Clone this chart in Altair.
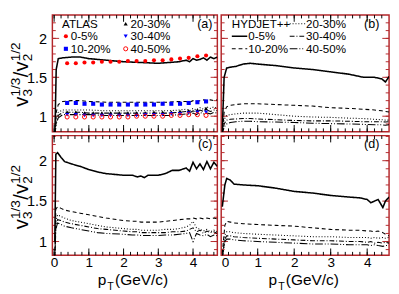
import altair as alt
import pandas as pd

FONT = "Liberation Sans"
FRAME = "#b3262a"
RED = "#ff0000"
BLUE = "#0000ff"

CENTS = ["0-5%", "10-20%", "20-30%", "30-40%", "40-50%"]
DASHES = [[1, 0], [4, 3], [1, 2], [5, 2, 1, 2], [8, 2, 1, 2, 1, 2]]
WIDTHS = [1.6, 1.1, 1.1, 1.1, 1.1]

# ---------------- data ----------------
# panel (a): model lines
pt_a = [0.02, 0.06, 0.12, 0.25, 0.5, 0.75, 1.0, 1.5, 2.0, 2.5, 3.0, 3.3, 3.6, 3.8,
        3.9, 4.0, 4.1, 4.2, 4.3, 4.4, 4.5, 4.6, 4.7]
a_0_5 = [0.70, 1.60, 1.74, 1.75, 1.76, 1.76, 1.74, 1.72, 1.70, 1.69, 1.68, 1.69, 1.70, 1.72,
         1.70, 1.74, 1.72, 1.73, 1.75, 1.72, 1.76, 1.74, 1.76]
a_10_20 = [0.78, 1.05, 1.15, 1.19, 1.20, 1.20, 1.19, 1.18, 1.18, 1.18, 1.18, 1.18, 1.19, 1.19,
           1.18, 1.20, 1.19, 1.20, 1.21, 1.20, 1.21, 1.20, 1.21]
a_20_30 = [0.75, 0.98, 1.05, 1.08, 1.08, 1.08, 1.08, 1.07, 1.07, 1.07, 1.07, 1.07, 1.08, 1.09,
           1.07, 1.10, 1.08, 1.11, 1.09, 1.12, 1.10, 1.12, 1.10]
a_30_40 = [0.75, 0.93, 1.01, 1.05, 1.05, 1.05, 1.04, 1.04, 1.04, 1.04, 1.04, 1.04, 1.05, 1.06,
           1.04, 1.07, 1.05, 1.08, 1.06, 1.08, 1.06, 1.08, 1.07]
a_40_50 = [0.75, 0.90, 0.98, 1.02, 1.02, 1.02, 1.02, 1.01, 1.01, 1.01, 1.01, 1.01, 1.02, 1.03,
           1.01, 1.04, 1.02, 1.05, 1.03, 1.04, 1.03, 1.05, 1.04]

# panel (a): ATLAS points
pt_atlas = [0.375, 0.625, 0.875, 1.125, 1.375, 1.625, 1.875, 2.125, 2.375, 2.625,
            2.875, 3.125, 3.375, 3.625, 3.875, 4.125, 4.375]
atlas_0_5 = [1.68, 1.68, 1.69, 1.69, 1.70, 1.70, 1.70, 1.71, 1.71, 1.71,
             1.72, 1.72, 1.73, 1.74, 1.75, 1.77, 1.78]
atlas_10_20 = [1.17, 1.17, 1.16, 1.16, 1.15, 1.15, 1.15, 1.15, 1.15, 1.15,
               1.15, 1.16, 1.16, 1.16, 1.17, 1.18, 1.19]
atlas_20_30 = [1.05, 1.05, 1.04, 1.04, 1.04, 1.04, 1.04, 1.04, 1.04, 1.04,
               1.05, 1.05, 1.05, 1.06, 1.07, 1.08, 1.10]
atlas_30_40 = [1.02, 1.02, 1.01, 1.01, 1.01, 1.01, 1.01, 1.01, 1.01, 1.02,
               1.02, 1.02, 1.03, 1.03, 1.04, 1.05, 1.05]
atlas_40_50 = [0.99, 0.99, 0.99, 0.99, 0.99, 0.99, 0.99, 0.99, 1.00, 1.00,
               1.00, 1.00, 1.01, 1.01, 1.02, 1.02, 1.01]

# panel (b): HYDJET++
pt_b = [0.02, 0.08, 0.15, 0.25, 0.4, 0.6, 0.8, 1.0, 1.5, 2.0, 2.5, 3.0, 3.5, 3.9,
        4.2, 4.4, 4.5, 4.6]
b_0_5 = [0.70, 1.50, 1.62, 1.63, 1.64, 1.67, 1.68, 1.67, 1.65, 1.62, 1.60, 1.57, 1.54, 1.50,
         1.50, 1.48, 1.44, 1.51]
b_10_20 = [0.75, 1.05, 1.12, 1.14, 1.15, 1.16, 1.16, 1.16, 1.15, 1.14, 1.13, 1.11, 1.10, 1.09,
           1.08, 1.07, 1.06, 1.055]
b_20_30 = [0.75, 0.96, 1.01, 1.02, 1.03, 1.04, 1.04, 1.04, 1.02, 1.00, 0.99, 0.985, 0.975, 0.97,
           0.96, 0.955, 0.95, 0.95]
b_30_40 = [0.75, 0.90, 0.95, 0.96, 0.965, 0.97, 0.97, 0.965, 0.955, 0.945, 0.94, 0.94, 0.935, 0.93,
           0.93, 0.93, 0.925, 0.93]
b_40_50 = [0.75, 0.86, 0.90, 0.92, 0.93, 0.935, 0.935, 0.93, 0.925, 0.92, 0.91, 0.905, 0.90, 0.895,
           0.89, 0.89, 0.885, 0.89]

# panel (c)
pt_c = [0.02, 0.05, 0.1, 0.2, 0.3, 0.5, 0.75, 1.0, 1.25, 1.5, 2.0, 2.25, 2.4, 2.5, 2.6,
        2.7, 3.0, 3.2, 3.4, 3.6, 3.8, 3.9, 4.0, 4.1, 4.2, 4.3, 4.4, 4.5, 4.6, 4.7]
c_0_5 = [1.00, 2.08, 2.10, 2.04, 1.99, 1.96, 1.93, 1.89, 1.86, 1.84, 1.82, 1.82, 1.80, 1.81, 1.79,
         1.82, 1.82, 1.84, 1.88, 1.88, 1.91, 1.87, 1.98, 1.90, 1.96, 1.89, 1.99, 1.90, 1.98, 1.93]
c_10_20 = [0.80, 1.40, 1.43, 1.41, 1.39, 1.37, 1.35, 1.33, 1.31, 1.29, 1.26, 1.25, 1.25, 1.24, 1.24,
           1.24, 1.24, 1.25, 1.26, 1.27, 1.28, 1.28, 1.29, 1.28, 1.29, 1.28, 1.29, 1.28, 1.29, 1.28]
c_20_30 = [0.78, 1.25, 1.33, 1.31, 1.29, 1.26, 1.24, 1.22, 1.20, 1.18, 1.16, 1.15, 1.15, 1.14, 1.14,
           1.14, 1.14, 1.15, 1.15, 1.16, 1.18, 1.20, 1.25, 1.17, 1.15, 1.13, 1.15, 1.12, 1.14, 1.12]
c_30_40 = [0.78, 1.20, 1.27, 1.26, 1.24, 1.22, 1.20, 1.18, 1.16, 1.15, 1.13, 1.12, 1.12, 1.11, 1.11,
           1.11, 1.11, 1.11, 1.12, 1.12, 1.13, 1.15, 1.17, 1.12, 1.14, 1.10, 1.13, 1.11, 1.12, 1.10]
c_40_50 = [0.78, 1.15, 1.23, 1.21, 1.19, 1.17, 1.15, 1.13, 1.11, 1.10, 1.09, 1.08, 1.08, 1.075, 1.075,
           1.075, 1.075, 1.08, 1.08, 1.09, 1.10, 1.11, 1.00, 1.10, 1.08, 1.07, 1.09, 1.06, 1.08, 1.07]

# panel (d)
pt_d = [0.03, 0.1, 0.15, 0.25, 0.35, 0.6, 1.0, 1.5, 2.0, 2.5, 3.0, 3.5, 3.8, 4.0, 4.1,
        4.2, 4.3, 4.43, 4.5, 4.6]
d_0_5 = [1.43, 1.70, 1.78, 1.76, 1.71, 1.70, 1.69, 1.66, 1.62, 1.60, 1.57, 1.55, 1.54, 1.52, 1.48,
         1.50, 1.52, 1.42, 1.50, 1.55]
d_10_20 = [0.85, 1.20, 1.25, 1.24, 1.23, 1.22, 1.21, 1.20, 1.19, 1.17, 1.15, 1.14, 1.14, 1.13, 1.13,
           1.12, 1.13, 1.11, 1.09, 1.07]
d_20_30 = [0.80, 1.08, 1.12, 1.12, 1.11, 1.10, 1.09, 1.08, 1.07, 1.06, 1.06, 1.05, 1.05, 1.05, 1.04,
           1.05, 1.04, 1.05, 1.04, 1.05]
d_30_40 = [0.80, 1.03, 1.07, 1.07, 1.06, 1.05, 1.04, 1.03, 1.02, 1.01, 1.01, 1.00, 1.00, 0.99, 1.00,
           0.98, 0.99, 0.98, 0.99, 0.98]
d_40_50 = [0.80, 1.00, 1.03, 1.03, 1.02, 1.01, 1.00, 0.99, 0.98, 0.97, 0.97, 0.96, 0.96, 0.96, 0.95,
           0.96, 0.95, 0.94, 0.95, 0.95]

X_LABELS = [0, 1, 2, 3, 4]
Y_LABELS = [1, 1.5, 2]
X_MAJOR = [0, 1, 2, 3, 4]
X_MINOR = [round(0.2 * i, 2) for i in range(25)]
Y_MAJOR = [1.0, 1.5, 2.0]
Y_MINOR = [round(0.8 + 0.1 * i, 2) for i in range(16)]

# ---------------- helpers ----------------
ONE = pd.DataFrame({"k": [0]})


def txt(s, x, y, size=12, align="left", baseline="middle", angle=0):
    kw = dict(text=s, font=FONT, fontSize=size, align=align, baseline=baseline, color="black")
    if angle:
        kw["angle"] = angle
    return alt.Chart(ONE).mark_text(**kw).encode(x=alt.value(x), y=alt.value(y))


def make_panel(pts, series, W, H, xdom, ydom, xlabels, ylabels, extras=None, points=None):
    if xlabels:
        xaxis = alt.Axis(values=X_LABELS, format="d", ticks=False, tickSize=0, domain=False,
                         grid=False, labelFont=FONT, labelFontSize=14, labelColor="black",
                         labelPadding=1, labelFlush=1, title=None)
    else:
        xaxis = None
    if ylabels:
        yaxis = alt.Axis(values=Y_LABELS, format="~g", ticks=False, tickSize=0, domain=False,
                         grid=False, labelFont=FONT, labelFontSize=15, labelColor="black",
                         labelPadding=6, title=None)
    else:
        yaxis = None

    def X(f):
        return alt.X(f, type="quantitative", scale=alt.Scale(domain=xdom, nice=False, zero=False), axis=xaxis)

    def Y(f):
        return alt.Y(f, type="quantitative", scale=alt.Scale(domain=ydom, nice=False, zero=False), axis=yaxis)

    layers = []
    # inward ticks
    for vals, L in ((Y_MAJOR, 7), (Y_MINOR, 3.5)):
        d = pd.DataFrame({"v": [v for v in vals if ydom[0] < v < ydom[1]]})
        layers.append(alt.Chart(d).mark_rule(color=FRAME, strokeWidth=1).encode(
            y=Y("v"), x=alt.value(0), x2=alt.value(L)))
        layers.append(alt.Chart(d).mark_rule(color=FRAME, strokeWidth=1).encode(
            y=Y("v"), x=alt.value(W - L), x2=alt.value(W)))
    for vals, L in ((X_MAJOR, 7), (X_MINOR, 3.5)):
        d = pd.DataFrame({"pt": [v for v in vals if xdom[0] < v < xdom[1]]})
        layers.append(alt.Chart(d).mark_rule(color="black", strokeWidth=1).encode(
            x=X("pt"), y=alt.value(H - L), y2=alt.value(H)))
        layers.append(alt.Chart(d).mark_rule(color="black", strokeWidth=1).encode(
            x=X("pt"), y=alt.value(0), y2=alt.value(L)))
    # model curves
    for c, vals, dash, w in zip(CENTS, series, DASHES, WIDTHS):
        d = pd.DataFrame({"pt": pts, "v": vals})
        layers.append(alt.Chart(d).mark_line(clip=True, color="black", strokeWidth=w,
                                             strokeDash=dash).encode(x=X("pt"), y=Y("v"), order="pt:Q"))
    if points:
        for ppt, vals, shape, col, filled in points:
            d = pd.DataFrame({"pt": ppt, "v": vals})
            layers.append(alt.Chart(d).mark_point(shape=shape, color=col, filled=filled, size=18,
                                                  strokeWidth=1, opacity=1).encode(x=X("pt"), y=Y("v")))
    if extras:
        layers.extend(extras)
    return alt.layer(*layers).properties(width=W, height=H)


def ytitle(cy):
    F, f = 21, 14
    bx = -25
    y0 = cy + 33
    parts = []
    parts.append(txt("v", bx, y0, size=F, baseline="alphabetic", angle=270))
    parts.append(txt("3", bx + 4, y0 - 10.5, size=f, baseline="alphabetic", angle=270))
    parts.append(txt("1/3", bx - 9, y0 - 10.5, size=f, baseline="alphabetic", angle=270))
    parts.append(txt("/", bx, y0 - 30.5, size=F, baseline="alphabetic", angle=270))
    parts.append(txt("v", bx, y0 - 36.5, size=F, baseline="alphabetic", angle=270))
    parts.append(txt("2", bx + 4, y0 - 47, size=f, baseline="alphabetic", angle=270))
    parts.append(txt("1/2", bx - 9, y0 - 47, size=f, baseline="alphabetic", angle=270))
    # invisible left bound keeper
    parts.append(alt.Chart(ONE).mark_rule(color="white", strokeWidth=0.5).encode(
        x=alt.value(-45), y=alt.value(cy), y2=alt.value(cy + 1)))
    return parts


def xtitle(x0):
    return [
        txt("p", x0, 155, size=16, baseline="alphabetic"),
        txt("T", x0 + 10, 159.5, size=11, baseline="alphabetic"),
        txt("(GeV/c)", x0 + 18, 155, size=16, baseline="alphabetic"),
    ]


def legend_marker(shape, col, filled, x, y):
    return alt.Chart(ONE).mark_point(shape=shape, color=col, filled=filled, size=18, strokeWidth=1,
                                     opacity=1).encode(x=alt.value(x), y=alt.value(y))


def legend_line(dash, w, x1, x2, y):
    return alt.Chart(ONE).mark_rule(color="black", strokeWidth=w, strokeDash=dash).encode(
        x=alt.value(x1), x2=alt.value(x2), y=alt.value(y))


WL, WR = 171, 174
HT, HB = 121, 124
XDOM_L = [-0.05, 4.7]
XDOM_R = [0.0, 4.6]
YDOM_T = [0.8, 2.3]
YDOM_B = [0.83, 2.31]

SHAPES = [("circle", RED, True), ("square", BLUE, True), ("triangle-up", "black", True),
          ("triangle-down", BLUE, True), ("circle", RED, False)]
atlas_series = [atlas_0_5, atlas_10_20, atlas_20_30, atlas_30_40, atlas_40_50]
points_a = [(pt_atlas, vals, s, c, fl) for vals, (s, c, fl) in zip(atlas_series, SHAPES)]

R1, R2, R3 = 9, 22, 35
extras_a = [txt("ATLAS", 10, R1, size=12)]
for i, (c, (s, col, fl)) in enumerate(zip(CENTS, SHAPES)):
    colx = 14 if i < 2 else 76
    rowy = [R2, R3][i] if i < 2 else [R1, R2, R3][i - 2]
    extras_a.append(legend_marker(s, col, fl, colx, rowy))
    extras_a.append(txt(c, colx + 5, rowy, size=12))
extras_a.append(txt("(a)", WL - 5, R1, size=13, align="right"))
extras_a += ytitle(62)

extras_b = [txt("HYDJET++", 11, R1, size=12)]
for i, c in enumerate(CENTS):
    if i < 2:
        x1, rowy = 11, [R2, R3][i]
    else:
        x1, rowy = 71, [R1, R2, R3][i - 2]
    extras_b.append(legend_line(DASHES[i], WIDTHS[i], x1, x1 + 16, rowy))
    extras_b.append(txt(c, x1 + 17, rowy, size=12))
extras_b.append(txt("(b)", WR - 10, R1, size=13, align="right"))

extras_c = [txt("(c)", WL - 5, 9, size=13, align="right")] + ytitle(64) + xtitle(47)
extras_d = [txt("(d)", WR - 10, 9, size=13, align="right")] + xtitle(49)

pa = make_panel(pt_a, [a_0_5, a_10_20, a_20_30, a_30_40, a_40_50], WL, HT, XDOM_L, YDOM_T,
                False, True, extras_a, points_a)
pb = make_panel(pt_b, [b_0_5, b_10_20, b_20_30, b_30_40, b_40_50], WR, HT, XDOM_R, YDOM_T,
                False, False, extras_b)
pc = make_panel(pt_c, [c_0_5, c_10_20, c_20_30, c_30_40, c_40_50], WL, HB, XDOM_L, YDOM_B,
                True, True, extras_c)
pd_ = make_panel(pt_d, [d_0_5, d_10_20, d_20_30, d_30_40, d_40_50], WR, HB, XDOM_R, YDOM_B,
                 True, False, extras_d)

top = alt.hconcat(pa, pb, spacing=0)
bottom = alt.hconcat(pc, pd_, spacing=0)
chart = alt.vconcat(top, bottom, spacing=0).properties(
    padding={"left": 0, "right": 0, "top": 0, "bottom": 0}
).configure_view(stroke=FRAME, strokeWidth=1.5).configure_concat(spacing=0)

chart.save("out.html", embed_options={"renderer": "svg", "actions": False})
